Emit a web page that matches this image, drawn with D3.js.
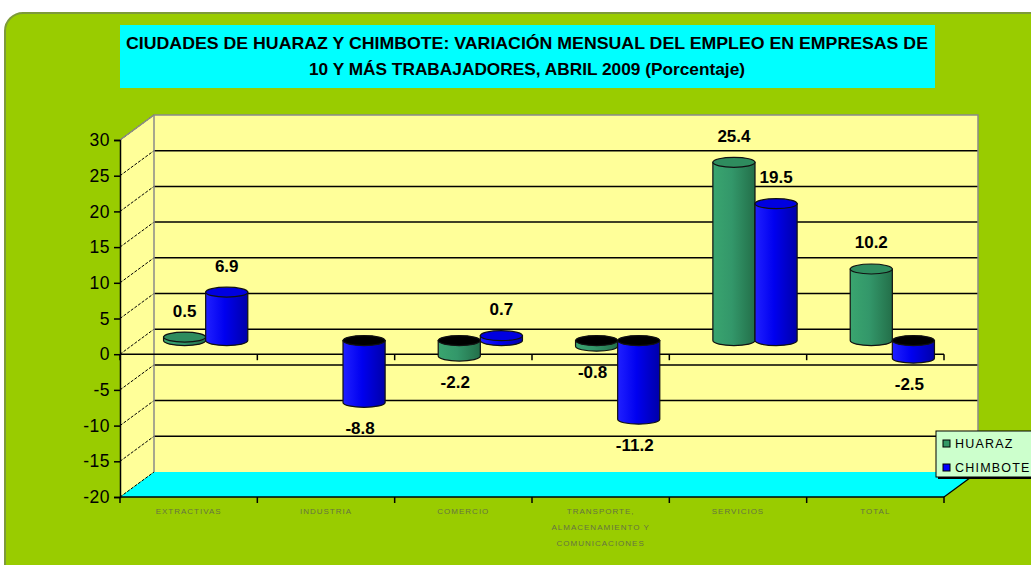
<!DOCTYPE html>
<html><head><meta charset="utf-8">
<script src="https://cdn.jsdelivr.net/npm/d3@7"></script>
<style>body{margin:0;background:#fff}svg{display:block}</style>
</head><body>
<svg id="c" width="1031" height="565"></svg>
<script>
const categories = ["EXTRACTIVAS","INDUSTRIA","COMERCIO","TRANSPORTE","SERVICIOS","TOTAL"];
const categoryLabels = [["EXTRACTIVAS"],["INDUSTRIA"],["COMERCIO"],["TRANSPORTE,","ALMACENAMIENTO Y","COMUNICACIONES"],["SERVICIOS"],["TOTAL"]];
const seriesNames = ["HUARAZ","CHIMBOTE"];
const huaraz = [0.5, null, -2.2, -0.8, 25.4, 10.2];
const chimbote = [6.9, -8.8, 0.7, -11.2, 19.5, -2.5];
const yTicks = [30,25,20,15,10,5,0,-5,-10,-15,-20];
const titleLines = ["CIUDADES DE HUARAZ Y CHIMBOTE: VARIACIÓN MENSUAL DEL EMPLEO EN EMPRESAS DE",
                    "10 Y MÁS TRABAJADORES, ABRIL 2009 (Porcentaje)"];
const titleWidths = [802, 436];

const svg = d3.select("#c");
const FONT = "'Liberation Sans', Arial, sans-serif";
const DX = 34, DY = 25;
const hy = s => s.replace("\u2212","-");

const yF = d3.scaleLinear().domain([-20,30]).range([497,140]);
const yB = v => yF(v) - DY;
const yM = d3.scaleLinear().domain([-20,30]).range([481,130]);
const x = d3.scaleBand().domain(categories).range([120,944]);
const xs = d3.scaleBand().domain(seriesNames).range([0, x.bandwidth()]).paddingInner(0).paddingOuter(0.63);

// defs
const defs = svg.append("defs");
function grad(id, stops){
  const g = defs.append("linearGradient").attr("id", id).attr("x1","0%").attr("x2","100%").attr("y1","0%").attr("y2","0%");
  stops.forEach(s => g.append("stop").attr("offset", s[0]).attr("stop-color", s[1]));
}
grad("gH", [["0%","#3aa56f"],["45%","#33976a"],["100%","#236f49"]]);
grad("gC", [["0%","#2020ff"],["45%","#0000f0"],["100%","#0000a8"]]);
const colors = {HUARAZ:{fill:"url(#gH)", top:"#2e8c5e", solid:"#339966"}, CHIMBOTE:{fill:"url(#gC)", top:"#0000e0", solid:"#0000ff"}};

// outer green panel
svg.append("rect").attr("x",5).attr("y",13).attr("width",1060).attr("height",580).attr("rx",18)
  .attr("fill","#99cc00").attr("stroke","#7d9a3a").attr("stroke-width",2);

// title
svg.append("rect").attr("x",120).attr("y",25).attr("width",815).attr("height",63).attr("fill","#00ffff");
svg.selectAll("text.title").data(titleLines).join("text").attr("class","title")
  .attr("x",527).attr("y",(d,i)=>49+i*26).attr("text-anchor","middle")
  .attr("textLength",(d,i)=>titleWidths[i]).attr("lengthAdjust","spacingAndGlyphs")
  .attr("font-family",FONT).attr("font-weight","bold").attr("font-size",17).attr("fill","#000")
  .text(d=>d);

const L = 120, R = 944;
// side wall
svg.append("path").attr("d",`M${L},${yF(30)}L${L+DX},${yB(30)}L${L+DX},${yB(-20)}L${L},${yF(-20)}Z`).attr("fill","#ffff99");
// back wall
svg.append("rect").attr("x",L+DX).attr("y",yB(30)).attr("width",R-L).attr("height",yB(-20)-yB(30)).attr("fill","#ffff99");
// floor
svg.append("path").attr("d",`M${L},${yF(-20)}L${L+DX},${yB(-20)}L${R+DX},${yB(-20)}L${R},${yF(-20)}Z`).attr("fill","#00ffff");

// back gridlines
svg.selectAll("line.bg").data(yTicks.filter(v=>v>-20 && v<30)).join("line").attr("class","bg")
  .attr("x1",L+DX).attr("x2",R+DX).attr("y1",d=>yB(d)).attr("y2",d=>yB(d))
  .attr("stroke","#000").attr("stroke-width",1.5);
// side wall gridlines
svg.selectAll("line.sg").data(yTicks).join("line").attr("class","sg")
  .attr("x1",L).attr("x2",L+DX).attr("y1",d=>yF(d)).attr("y2",d=>yB(d))
  .attr("stroke","#000").attr("stroke-width",1).attr("stroke-dasharray","3,1.5");
// wall borders (gray)
svg.append("path").attr("d",`M${L},${yF(30)}L${L+DX},${yB(30)}L${R+DX},${yB(30)}L${R+DX},${yB(-20)}`)
  .attr("fill","none").attr("stroke","#8a8a8a").attr("stroke-width",1.5);
svg.append("line").attr("x1",L+DX).attr("x2",L+DX).attr("y1",yB(30)).attr("y2",yB(-20)).attr("stroke","#8a8a8a").attr("stroke-width",1.5);
// floor right edge
svg.append("line").attr("x1",R).attr("y1",yF(-20)).attr("x2",R+DX).attr("y2",yB(-20)).attr("stroke","#000").attr("stroke-width",1.2);

// y axis
const yAxis = d3.axisLeft(yF).tickValues(yTicks).tickSize(6).tickPadding(4).tickFormat(d=>hy(d3.format("d")(d)));
const ga = svg.append("g").attr("transform",`translate(${L},0)`).call(yAxis);
ga.select(".domain").attr("stroke","#000").attr("stroke-width",1.5);
ga.selectAll(".tick line").attr("stroke","#000").attr("stroke-width",1.5);
ga.selectAll(".tick text").attr("font-family",FONT).attr("font-size",17.5).attr("fill","#000").attr("letter-spacing","0.5px");

// bottom axis (floor front edge) and zero line
const bounds = categories.map(c=>x(c)).concat([R]);
[yF(-20), yF(0)].forEach(yy=>{
  svg.append("line").attr("x1",L).attr("x2",R).attr("y1",yy).attr("y2",yy).attr("stroke","#000").attr("stroke-width",1.5);
  svg.selectAll(null).data(bounds).join("line").attr("x1",d=>d).attr("x2",d=>d).attr("y1",yy).attr("y2",yy+6)
    .attr("stroke","#000").attr("stroke-width",1.5);
});

// category labels
categories.forEach((c,i)=>{
  svg.append("text").attr("x",x(c)+x.bandwidth()/2).attr("y",514).attr("text-anchor","middle")
    .attr("font-family",FONT).attr("font-size",8).attr("letter-spacing","1px").attr("fill","#667340")
    .selectAll("tspan").data(categoryLabels[i]).join("tspan")
    .attr("x",x(c)+x.bandwidth()/2).attr("dy",(d,j)=>j===0?0:16).text(d=>d);
});

// cylinders
const RY = 5;
const data = [];
categories.forEach((c,i)=>{
  [["HUARAZ",huaraz[i]],["CHIMBOTE",chimbote[i]]].forEach(([s,v])=>{
    if(v===null || v===undefined) return;
    data.push({c, s, v});
  });
});
const gb = svg.append("g");
data.forEach(d=>{
  const x0 = x(d.c) + DX/2 + xs(d.s);
  const w = xs.bandwidth();
  const rx = w/2, cx = x0 + rx;
  const y0 = yM(0), y1 = yM(d.v);
  const top = Math.min(y0,y1), bot = Math.max(y0,y1);
  const col = colors[d.s];
  gb.append("path").attr("d",`M${cx-rx},${top}L${cx-rx},${bot}A${rx},${RY} 0 0 0 ${cx+rx},${bot}L${cx+rx},${top}Z`)
    .attr("fill",col.fill).attr("stroke","#111").attr("stroke-width",1.2);
  gb.append("ellipse").attr("cx",cx).attr("cy",top).attr("rx",rx).attr("ry",RY)
    .attr("fill", d.v>=0 ? col.top : "#000").attr("stroke","#111").attr("stroke-width",1.2);
  d.cx = cx; d.top = top; d.bot = bot;
});
// value labels
svg.selectAll("text.val").data(data).join("text").attr("class","val")
  .attr("x",d=>d.v>=0 ? d.cx : d.cx-4)
  .attr("y",d=>d.v>=0 ? d.top-26 : d.bot+26)
  .attr("dominant-baseline","central").attr("text-anchor","middle")
  .attr("font-family",FONT).attr("font-weight","bold").attr("font-size",17).attr("fill","#000")
  .text(d=>hy(d3.format(".1f")(d.v)));

// legend
const lg = svg.append("g");
lg.append("rect").attr("x",938).attr("y",433).attr("width",100).attr("height",46).attr("fill","#000");
lg.append("rect").attr("x",936).attr("y",431).attr("width",100).attr("height",46).attr("fill","#ccffcc").attr("stroke","#000").attr("stroke-width",1);
seriesNames.forEach((s,i)=>{
  lg.append("rect").attr("x",943).attr("y",440+i*24).attr("width",7).attr("height",7)
    .attr("fill",colors[s].solid).attr("stroke","#000").attr("stroke-width",1);
  lg.append("text").attr("x",955).attr("y",444+i*24).attr("dominant-baseline","central")
    .attr("font-family",FONT).attr("font-size",12.5).attr("letter-spacing","1.2px").attr("fill","#000").text(s);
});
</script>
</body></html>
